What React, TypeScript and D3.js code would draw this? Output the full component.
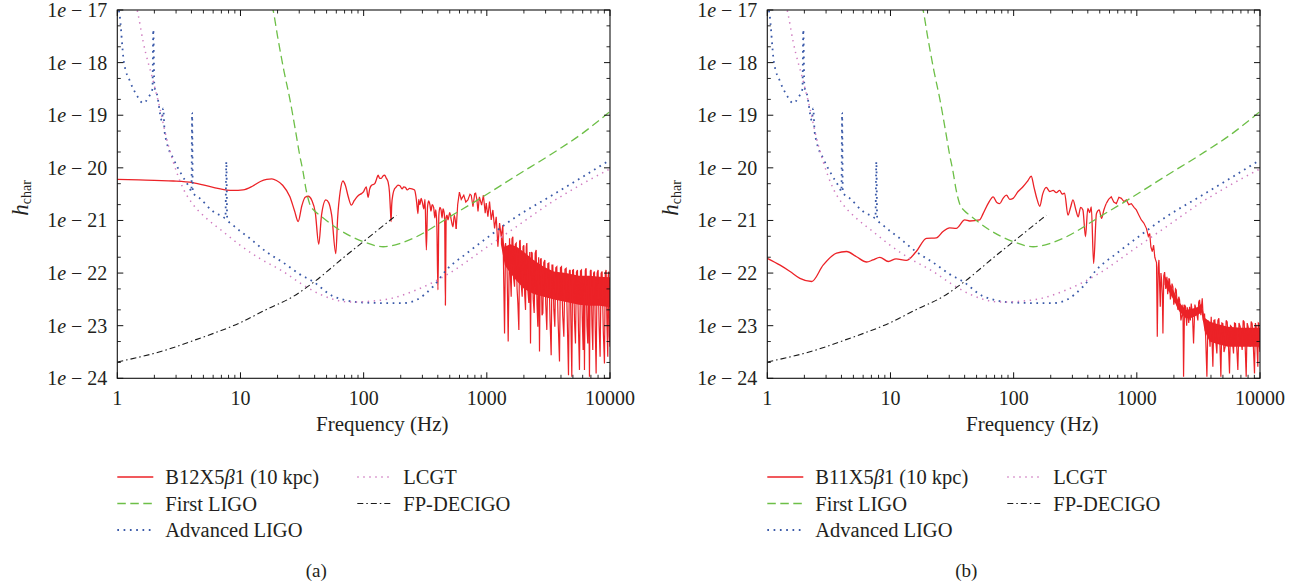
import React, { useEffect } from "react";
import * as d3 from "d3";

// [frequency (Hz), log10 of h_char]
type Pt = [number, number];
// [frequency (Hz), log10 top, log10 bottom]
type Band = [number, number, number];

const X_TICKS = [1, 10, 100, 1000, 10000];
const X_TICK_LABELS = ["1", "10", "100", "1000", "10000"];
const Y_EXPONENTS = [-17, -18, -19, -20, -21, -22, -23, -24];
const Y_TICK_LABELS = ["17", "18", "19", "20", "21", "22", "23", "24"];
const Y_MINOR_MANTISSAS = [2, 5];

const firstLIGO: Pt[] = [
  [18.0, -16.9], [18.4, -17.0], [20, -17.5], [22.5, -18.15], [25.1, -18.68], [28, -19.3],
  [30.2, -19.75], [32.2, -20.07], [34, -20.4], [36.4, -20.68], [40, -20.82], [44, -20.9],
  [63.6, -21.18], [99, -21.4], [144, -21.5], [196, -21.44], [268, -21.31], [499, -20.93],
  [930, -20.55], [1734, -20.15], [3230, -19.76], [6010, -19.34], [10000, -18.93],
];

const advancedLIGO: Pt[] = [
  [1.0, -16.9], [1.04, -17.06], [1.13, -17.98], [1.27, -18.36], [1.43, -18.61], [1.62, -18.77],
  [1.8, -18.65], [1.93, -18.5], [1.96, -17.37], [2.0, -18.45], [2.1, -18.6], [2.3, -19.1],
  [2.36, -18.87], [2.42, -19.3], [2.51, -19.5], [2.84, -19.82], [3.33, -20.13], [3.88, -20.39],
  [4.0, -20.45], [4.05, -18.95], [4.1, -20.47], [4.68, -20.58], [6.0, -20.83], [7.2, -20.93],
  [7.55, -20.96], [7.68, -19.88], [7.8, -20.98], [8.7, -21.09], [11.9, -21.34], [16.3, -21.6],
  [22.2, -21.8], [30.2, -22.02], [38.8, -22.16], [56.5, -22.44], [99, -22.56], [150, -22.57],
  [209, -22.57], [268, -22.51], [365, -22.26], [470, -21.94], [682, -21.63], [991, -21.34],
  [1734, -20.93], [3230, -20.55], [6010, -20.17], [10000, -19.85],
];

const lcgt: Pt[] = [
  [1.42, -16.9], [1.48, -17.1], [1.62, -17.6], [1.96, -18.36], [2.22, -18.87], [2.51, -19.44],
  [2.84, -19.88], [3.42, -20.39], [4.13, -20.7], [5.3, -20.96], [7.2, -21.21], [9.8, -21.46],
  [14.3, -21.72], [22.2, -21.97], [31, -22.2], [44, -22.4], [77, -22.55], [144, -22.51],
  [268, -22.32], [499, -22.0], [930, -21.56], [1734, -21.12], [3230, -20.68], [6010, -20.3],
  [10000, -20.02],
];

const fpDECIGO: Pt[] = [
  [1, -23.69], [2.5, -23.46], [4.3, -23.27], [10, -22.94], [16, -22.7], [27, -22.44],
  [40, -22.16], [70, -21.69], [120, -21.25], [184, -20.9],
];

// B12X5β1, smooth low-frequency part
const signalB12Smooth: Pt[] = [
  [1, -20.22], [1.5, -20.23], [2, -20.24], [2.85, -20.25], [4.1, -20.28], [6, -20.37],
  [8.7, -20.43], [10.5, -20.42], [12.5, -20.35], [14.5, -20.26], [16.3, -20.22], [18, -20.21],
  [19.6, -20.24], [22, -20.33], [25.2, -20.55], [27.5, -20.82], [29.4, -21.02], [31.5, -20.72],
  [33.5, -20.56], [35.5, -20.54], [38, -20.62], [40.5, -20.85], [43.2, -21.45], [45.5, -20.9],
  [49.3, -20.61], [52, -20.66], [55, -20.9], [59.4, -21.63], [61.5, -20.95], [64.5, -20.45],
  [67.9, -20.25], [71, -20.33], [75, -20.55], [79.5, -20.71], [84, -20.62], [87.6, -20.56],
  [91, -20.52], [95.9, -20.49], [100, -20.45], [105, -20.36], [108.6, -20.56], [112, -20.4],
  [115, -20.34], [123, -20.3], [127, -20.22], [131, -20.14], [135, -20.2], [139, -20.2],
  [143, -20.16], [148, -20.14], [153, -20.2], [158, -20.27], [162, -20.46], [165, -20.8],
  [167, -21.02], [169, -20.7], [173, -20.5], [178, -20.4], [183, -20.37], [190, -20.33],
  [197, -20.34], [205, -20.4], [212, -20.36], [218, -20.37], [226, -20.42], [236, -20.39],
  [247, -20.4], [259, -20.42], [266, -20.55], [272, -20.75], [276, -20.87], [280, -20.6],
  [286, -20.7], [293, -20.58], [300, -20.66], [308, -20.78], [315, -20.6], [323, -21.56],
  [330, -20.75], [337, -20.63], [345, -20.7], [352, -20.82], [360, -20.7], [370, -20.75],
  [378, -20.95], [385, -20.8], [393, -21.1], [401, -22.32], [408, -20.9], [416, -20.75],
  [425, -20.8], [433, -20.95], [441, -20.78], [450, -20.85], [455, -21.0], [461, -22.61],
  [467, -20.95], [475, -20.9], [484, -20.99], [500, -20.85], [515, -21.0], [531, -21.12],
  [545, -20.9], [564, -21.16],
];

// B12X5β1, jagged high-frequency part
const signalB12Noise: Pt[] = [
  [564, -21.16], [580, -20.7], [599, -20.46], [620, -20.6], [650, -20.52], [675, -20.65],
  [702, -20.61], [730, -20.5], [747, -20.52], [772, -20.74], [797, -20.49], [811, -20.48],
  [830, -20.6], [848, -20.83], [870, -20.55], [907, -20.71], [938, -20.52], [970, -20.86],
  [989, -20.67], [1020, -20.93], [1052, -20.64], [1086, -20.99], [1120, -20.8], [1156, -21.15],
  [1192, -20.93], [1230, -21.5], [1269, -21.05], [1309, -21.31], [1350, -21.09], [1393, -23.15],
  [1419, -21.43], [1455, -21.69], [1491, -23.3], [1529, -21.34], [1550, -22.0], [1577, -22.45],
  [1600, -21.35], [1627, -21.31], [1650, -22.1], [1679, -22.26], [1705, -21.45], [1732, -21.43],
  [1760, -22.3], [1786, -22.57], [1820, -23.08], [1845, -21.4], [1866, -21.37], [1900, -22.2],
  [1937, -22.45], [1968, -21.5], [1998, -21.47], [2030, -22.4], [2062, -22.7], [2090, -21.5],
  [2113, -21.43], [2150, -22.3], [2194, -22.57], [2230, -21.6], [2263, -23.34], [2300, -21.6],
  [2335, -21.62], [2380, -22.5], [2424, -22.76], [2470, -21.62], [2516, -21.56], [2555, -22.6],
  [2595, -23.02], [2635, -21.7], [2677, -23.49], [2720, -21.75], [2762, -21.72], [2805, -22.8],
  [2850, -22.76], [2900, -21.8], [2958, -21.75], [3010, -22.6], [3070, -23.08], [3130, -21.82],
  [3187, -21.81], [3260, -22.9], [3330, -23.56], [3380, -21.85], [3435, -21.85], [3500, -22.7],
  [3565, -23.02], [3630, -21.9], [3701, -21.88], [3790, -22.9], [3890, -23.68], [3960, -21.9],
  [4038, -21.88], [4130, -22.8], [4219, -23.21], [4310, -21.93], [4406, -21.91], [4500, -22.9],
  [4603, -23.94], [4680, -21.96], [4748, -21.94], [4820, -23.0], [4898, -23.97], [4970, -21.95],
  [5052, -21.94], [5150, -22.9], [5244, -23.34], [5340, -21.98], [5443, -21.94], [5550, -23.1],
  [5651, -23.84], [5760, -21.96], [5866, -21.94], [5960, -22.9], [6052, -23.46], [6130, -22.2],
  [6204, -23.84], [6300, -21.95], [6400, -21.91], [6500, -23.0], [6601, -23.34], [6700, -22.1],
  [6812, -23.97], [6920, -21.96], [7026, -21.94], [7140, -23.0], [7251, -23.46], [7360, -22.0],
  [7480, -21.97], [7600, -23.1], [7716, -23.91], [7860, -22.0], [8008, -21.94], [8160, -23.0],
  [8312, -23.59], [8470, -22.0], [8630, -21.97], [8820, -23.1], [9015, -23.72], [9150, -22.0],
  [9299, -21.94], [9450, -23.0], [9592, -23.59], [9680, -22.05], [9772, -21.97], [9890, -23.2],
  [10000, -23.4],
];

// densely filled core of the B12X5β1 high-frequency noise
const bandB12: Band[] = [
  [1300, -21.2, -21.45], [1400, -21.5, -21.85], [1550, -21.45, -22.0], [1750, -21.5, -22.15],
  [2000, -21.6, -22.3], [2400, -21.75, -22.4], [2900, -21.88, -22.45], [3500, -21.97, -22.5],
  [4400, -22.0, -22.55], [5600, -22.05, -22.6], [6800, -22.05, -22.62], [8200, -22.07, -22.62],
  [10000, -22.08, -22.65],
];

// B11X5β1, smooth low-frequency part
const signalB11Smooth: Pt[] = [
  [1, -21.72], [1.27, -21.85], [1.53, -21.97], [1.84, -22.1], [2.29, -22.16], [2.84, -21.85],
  [3.65, -21.62], [4.4, -21.59], [5.3, -21.69], [6.4, -21.79], [7.2, -21.75], [8.2, -21.7],
  [9.6, -21.78], [11.1, -21.73], [13.4, -21.76], [16.2, -21.59], [19.6, -21.34], [23.6, -21.33],
  [26.7, -21.21], [30.2, -21.14], [34.2, -21.15], [40.1, -20.99], [44, -21.01], [52.9, -20.99],
  [56.5, -20.87], [62, -20.68], [68.2, -20.55], [73, -20.66], [77, -20.68], [82, -20.58],
  [87.4, -20.52], [93, -20.6], [99, -20.58], [108.6, -20.45], [119, -20.36], [130, -20.25],
  [139, -20.16], [146, -20.36], [155, -20.6], [163, -20.73], [172, -20.5], [184, -20.37],
  [196, -20.45], [209, -20.43], [222, -20.47], [236, -20.43], [248, -20.5], [259, -20.48],
  [276, -20.9], [290, -20.75], [303, -20.61], [320, -20.8], [334, -20.93], [350, -20.75],
  [365, -20.8], [383, -21.31], [400, -20.77], [415, -20.85], [427, -20.74], [446, -21.82],
  [470, -20.87], [495, -20.8], [517, -20.96], [540, -20.8], [564, -20.68],
];

// B11X5β1, jagged high-frequency part
const signalB11Noise: Pt[] = [
  [564, -20.68], [590, -20.6], [620, -20.55], [650, -20.65], [682, -20.68], [715, -20.56],
  [749, -20.58], [785, -20.64], [823, -20.61], [860, -20.7], [903, -20.68], [950, -20.75],
  [991, -20.8], [1040, -20.9], [1088, -20.99], [1140, -21.05], [1196, -21.15], [1240, -21.3],
  [1273, -21.25], [1300, -21.5], [1335, -21.59], [1369, -21.47], [1400, -21.7], [1421, -21.75],
  [1445, -21.8], [1466, -23.21], [1490, -21.9], [1512, -21.75], [1530, -22.2], [1550, -22.64],
  [1570, -22.0], [1589, -22.13], [1610, -22.4], [1629, -23.15], [1655, -22.05], [1681, -21.98],
  [1718, -22.3], [1755, -22.07], [1780, -22.4], [1800, -22.3], [1822, -22.1], [1845, -22.13],
  [1872, -22.5], [1900, -22.4], [1930, -22.2], [1963, -22.26], [1995, -22.6], [2030, -22.5],
  [2060, -22.3], [2090, -22.32], [2125, -22.6], [2160, -22.7], [2190, -22.45], [2224, -22.51],
  [2280, -22.9], [2338, -22.77], [2367, -22.6], [2396, -23.97], [2440, -22.6], [2487, -22.64],
  [2540, -23.0], [2570, -22.65], [2597, -22.77], [2640, -22.95], [2680, -22.64], [2720, -22.9],
  [2765, -22.58], [2830, -22.8], [2888, -23.34], [2960, -22.6], [3035, -22.7], [3130, -22.9],
  [3180, -22.55], [3230, -22.51], [3310, -22.8], [3396, -22.48], [3470, -22.9], [3546, -22.77],
  [3620, -23.2], [3706, -23.97], [3780, -22.9], [3846, -23.02], [3930, -23.4], [4017, -22.83],
  [4080, -23.3], [4144, -23.78], [4220, -22.9], [4301, -22.89], [4380, -23.3], [4465, -23.53],
  [4550, -22.9], [4636, -22.86], [4720, -23.3], [4813, -23.97], [4900, -22.95], [4994, -22.96],
  [5100, -23.5], [5216, -23.4], [5310, -22.9], [5414, -22.93], [5530, -23.3], [5656, -23.91],
  [5760, -23.0], [5873, -23.02], [5980, -23.3], [6095, -23.53], [6210, -22.95], [6326, -22.96],
  [6470, -23.4], [6610, -23.84], [6750, -22.95], [6903, -23.02], [7030, -23.3], [7166, -23.46],
  [7300, -22.9], [7437, -22.93], [7580, -23.4], [7725, -23.97], [7870, -22.95], [8017, -23.02],
  [8170, -23.3], [8322, -23.4], [8480, -22.92], [8637, -22.96], [8830, -23.4], [9024, -23.91],
  [9170, -22.95], [9310, -23.02], [9450, -23.4], [9603, -23.78], [9690, -22.95], [9780, -22.96],
  [9890, -23.4], [10000, -23.5],
];

// densely filled core of the B11X5β1 high-frequency noise
const bandB11: Band[] = [
  [1680, -22.05, -22.22], [1850, -22.2, -22.38], [2000, -22.35, -22.52], [2200, -22.55, -22.72],
  [2500, -22.7, -22.86], [2800, -22.68, -22.85], [3100, -22.65, -22.8], [3350, -22.58, -22.75],
  [3550, -22.85, -23.1], [3900, -22.92, -23.3], [4500, -22.97, -23.35], [5500, -23.02, -23.4],
  [7000, -23.04, -23.4], [8500, -23.04, -23.4], [10000, -23.04, -23.4],
];

const STYLES = {
  signal: { stroke: "#ec2227", width: 1.3, dash: undefined as string | undefined },
  first: { stroke: "#6dbf47", width: 1.3, dash: "8.5,4.5" },
  aligo: { stroke: "#3b5aa9", width: 1.8, dash: "1.7,4.6" },
  lcgt: { stroke: "#d07cc0", width: 1.5, dash: "1.4,4.6" },
  fp: { stroke: "#1a1a1a", width: 1.1, dash: "6,3,1.5,3" },
};

const FONT = '"Liberation Serif", "Times New Roman", Times, "DejaVu Serif", serif';
const TEXT_STYLE: React.CSSProperties = { fontFamily: FONT };
const TOP = 10;
const BOTTOM = 378.3;
const WIDTH = 492.7;

const toH = (e: number) => Math.pow(10, e);

interface PanelProps {
  id: string;
  x0: number;
  smooth: Pt[];
  noise: Pt[];
  band: Band[];
  name: string;
  letter: string;
}

function Panel({ id, x0, smooth, noise, band, name, letter }: PanelProps) {
  const x = d3.scaleLog().domain([1, 10000]).range([x0, x0 + WIDTH]);
  const y = d3.scaleLog().domain([1e-24, 1e-17]).range([BOTTOM, TOP]);
  const line = d3
    .line<Pt>()
    .x((d) => x(d[0]))
    .y((d) => y(toH(d[1])))
    .curve(d3.curveMonotoneX);
  const jagged = d3
    .line<Pt>()
    .x((d) => x(d[0]))
    .y((d) => y(toH(d[1])));
  const area = d3
    .area<Band>()
    .x((d) => x(d[0]))
    .y0((d) => y(toH(d[2])))
    .y1((d) => y(toH(d[1])));

  const xMinor = x.ticks().filter((t) => !X_TICKS.includes(t));
  const yMinor: number[] = [];
  Y_EXPONENTS.slice(1).forEach((e) => Y_MINOR_MANTISSAS.forEach((m) => yMinor.push(m * toH(e))));

  const series: { key: keyof typeof STYLES; data: Pt[] }[] = [
    { key: "first", data: firstLIGO },
    { key: "aligo", data: advancedLIGO },
    { key: "lcgt", data: lcgt },
    { key: "fp", data: fpDECIGO },
  ];

  const legend: { key: keyof typeof STYLES; label: React.ReactNode; col: number; row: number }[] = [
    {
      key: "signal",
      label: (
        <>
          {name}
          <tspan fontStyle="italic">β</tspan>1 (10 kpc)
        </>
      ),
      col: 0,
      row: 0,
    },
    { key: "first", label: "First LIGO", col: 0, row: 1 },
    { key: "aligo", label: "Advanced LIGO", col: 0, row: 2 },
    { key: "lcgt", label: "LCGT", col: 1, row: 0 },
    { key: "fp", label: "FP-DECIGO", col: 1, row: 1 },
  ];
  const legendColX = [x0, x0 + 240];
  const legendRowY = [477, 503.5, 530];
  const sig = STYLES.signal;

  return (
    <g>
      <defs>
        <clipPath id={`clip-${id}`}>
          <rect x={x0} y={TOP} width={WIDTH} height={BOTTOM - TOP} />
        </clipPath>
      </defs>
      <g clipPath={`url(#clip-${id})`}>
        <path d={area(band) || ""} fill={sig.stroke} stroke="none" />
        <path d={line(smooth) || ""} fill="none" stroke={sig.stroke} strokeWidth={sig.width} strokeLinejoin="round" />
        <path d={jagged(noise) || ""} fill="none" stroke={sig.stroke} strokeWidth={1.2} strokeLinejoin="miter" strokeMiterlimit={3} />
        {series.map((s) => (
          <path
            key={s.key}
            d={line(s.data) || ""}
            fill="none"
            stroke={STYLES[s.key].stroke}
            strokeWidth={STYLES[s.key].width}
            strokeDasharray={STYLES[s.key].dash}
          />
        ))}
      </g>
      <rect x={x0} y={TOP} width={WIDTH} height={BOTTOM - TOP} fill="none" stroke="#111" strokeWidth={1.1} />
      {X_TICKS.map((t) => (
        <g key={`xt${t}`}>
          <line x1={x(t)} x2={x(t)} y1={BOTTOM} y2={BOTTOM - 6} stroke="#111" strokeWidth={1} />
          <line x1={x(t)} x2={x(t)} y1={TOP} y2={TOP + 6} stroke="#111" strokeWidth={1} />
        </g>
      ))}
      {xMinor.map((t) => (
        <g key={`xm${t}`}>
          <line x1={x(t)} x2={x(t)} y1={BOTTOM} y2={BOTTOM - 3.5} stroke="#111" strokeWidth={0.9} />
          <line x1={x(t)} x2={x(t)} y1={TOP} y2={TOP + 3.5} stroke="#111" strokeWidth={0.9} />
        </g>
      ))}
      {X_TICKS.map((t, i) => (
        <text key={`xl${t}`} x={x(t)} y={405} textAnchor="middle" style={TEXT_STYLE} fontSize={20} fill="#231f20">
          {X_TICK_LABELS[i]}
        </text>
      ))}
      {Y_EXPONENTS.map((e) => (
        <g key={`yt${e}`}>
          <line x1={x0} x2={x0 + 6} y1={y(toH(e))} y2={y(toH(e))} stroke="#111" strokeWidth={1} />
          <line x1={x0 + WIDTH} x2={x0 + WIDTH - 6} y1={y(toH(e))} y2={y(toH(e))} stroke="#111" strokeWidth={1} />
        </g>
      ))}
      {yMinor.map((v) => (
        <g key={`ym${v}`}>
          <line x1={x0} x2={x0 + 3.5} y1={y(v)} y2={y(v)} stroke="#111" strokeWidth={0.9} />
          <line x1={x0 + WIDTH} x2={x0 + WIDTH - 3.5} y1={y(v)} y2={y(v)} stroke="#111" strokeWidth={0.9} />
        </g>
      ))}
      {Y_EXPONENTS.map((e, i) => (
        <text key={`yl${e}`} x={x0 - 10} y={y(toH(e)) + 7} textAnchor="end" style={TEXT_STYLE} fontSize={20} fill="#231f20">
          1<tspan fontStyle="italic">e</tspan> − {Y_TICK_LABELS[i]}
        </text>
      ))}
      <text x={x0 + 265} y={431} textAnchor="middle" style={TEXT_STYLE} fontSize={21} fill="#231f20">
        Frequency (Hz)
      </text>
      <text transform={`translate(${x0 - 89},198) rotate(-90)`} textAnchor="middle" style={TEXT_STYLE} fill="#231f20">
        <tspan fontSize={23} fontStyle="italic">h</tspan>
        <tspan fontSize={14} dy={3}>char</tspan>
      </text>
      {legend.map((l) => {
        const lx = legendColX[l.col];
        const ly = legendRowY[l.row];
        const st = STYLES[l.key];
        return (
          <g key={`lg${l.key}`}>
            <line x1={lx} x2={lx + 36} y1={ly} y2={ly} stroke={st.stroke} strokeWidth={st.width} strokeDasharray={st.dash} />
            <text x={lx + (l.col === 0 ? 48 : 46)} y={ly + 7} style={TEXT_STYLE} fontSize={20.5} fill="#231f20">
              {l.label}
            </text>
          </g>
        );
      })}
      <text x={x0 + 199} y={577} textAnchor="middle" style={TEXT_STYLE} fontSize={19} fill="#231f20">
        ({letter})
      </text>
    </g>
  );
}

export default function App() {
  useEffect(() => {
    document.body.style.margin = "0";
    document.body.style.overflow = "hidden";
  }, []);
  return (
    <svg
      width={1298}
      height={586}
      viewBox="0 0 1298 586"
      style={{ position: "absolute", left: 0, top: 0, background: "#ffffff" }}
    >
      <rect x={0} y={0} width={1298} height={586} fill="#ffffff" />
      <Panel id="a" x0={117.3} smooth={signalB12Smooth} noise={signalB12Noise} band={bandB12} name="B12X5" letter="a" />
      <Panel id="b" x0={767.3} smooth={signalB11Smooth} noise={signalB11Noise} band={bandB11} name="B11X5" letter="b" />
    </svg>
  );
}
